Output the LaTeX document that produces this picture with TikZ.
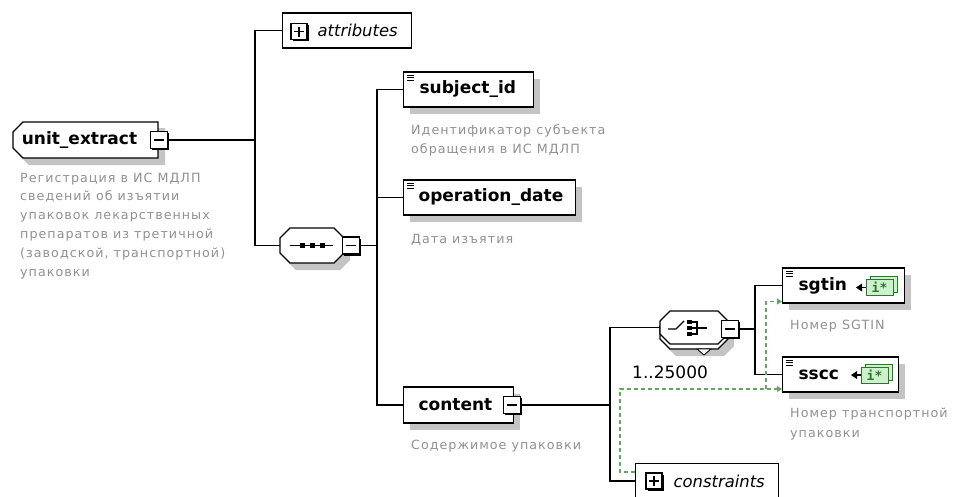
\documentclass[tikz,border=0pt]{standalone}
\usepackage{fontspec}
\setmainfont{DejaVu Sans}
\newfontfamily\descfont[LetterSpace=8]{DejaVu Sans}
\newfontfamily\iconfont{DejaVu Sans Mono}
\usetikzlibrary{shadows,arrows.meta}
\definecolor{descgray}{RGB}{145,145,145}
\definecolor{shadowgray}{RGB}{196,196,196}
\definecolor{keygreen}{RGB}{95,170,95}
\definecolor{iconfill}{RGB}{205,240,205}
\definecolor{icondraw}{RGB}{40,120,40}
\newcommand\octpath[5]{({#1+#5},#2) -- ({#3-#5},#2) -- (#3,{#2+#5}) -- (#3,{#4-#5}) -- ({#3-#5},#4) -- ({#1+#5},#4) -- (#1,{#4-#5}) -- (#1,{#2+#5}) -- cycle}
\newcommand\keyicon[2]{%
  \fill[black] (#1-10,#2) -- (#1-4,#2-4) -- (#1-4,#2+4) -- cycle;
  \draw[line width=1.2pt] (#1-5,#2) -- (#1,#2);
  \filldraw[fill=iconfill,draw=icondraw,line width=1pt] (#1+4,#2-11) rectangle (#1+31,#2+5);
  \filldraw[fill=iconfill,draw=icondraw,line width=1pt] (#1,#2-8) rectangle (#1+27,#2+8);
  \node[inner sep=0pt,text=icondraw,font=\iconfont\bfseries\fontsize{13}{14}\selectfont] at (#1+13.5,#2) {i*};
}
\tikzset{
  elembox/.style={rectangle, draw=black, line width=1.2pt, fill=white, inner xsep=0pt, inner ysep=0pt,
    minimum height=35pt, align=left, anchor=west, font=\bfseries\fontsize{17}{20}\selectfont},
  boxshadow/.style={general shadow={fill=shadowgray, shadow xshift=6pt, shadow yshift=-7pt}},
  simpleicon/.style={path picture={
    \foreach \dy in {3,5.5,8}{\draw[line width=0.9pt] ([xshift=3pt,yshift=-\dy pt]path picture bounding box.north west) -- ++(7pt,0pt);}}},
  hold/.style={rectangle, draw=none, fill=none, inner sep=0pt},
  pm/.style={rectangle, draw=black, fill=white, line width=1.2pt, minimum size=17pt, inner sep=0pt,
    general shadow={fill=black, shadow xshift=1.6pt, shadow yshift=-1.6pt}},
  minusbox/.style={pm, path picture={\draw[line width=1.2pt] ([xshift=-5pt]path picture bounding box.center) -- ([xshift=5pt]path picture bounding box.center);}},
  plusbox/.style={pm, minimum size=16pt, path picture={\draw[line width=1.2pt] ([xshift=-5pt]path picture bounding box.center) -- ([xshift=5pt]path picture bounding box.center) ([yshift=-5pt]path picture bounding box.center) -- ([yshift=5pt]path picture bounding box.center);}},
  desc/.style={anchor=north west, inner sep=0pt, align=left, text=descgray, font=\descfont\fontsize{12.7}{18.8}\selectfont},
  conn/.style={draw=black, line width=1.3pt},
  keyref/.style={draw=keygreen, line width=1.1pt, dash pattern=on 4pt off 3pt, -{Triangle[length=5pt,width=6pt]}},
}
\begin{document}
\begin{tikzpicture}[x=1pt,y=-1pt]
\useasboundingbox (0,0) rectangle (954,496);
\fill[white] (0,0) rectangle (954,496);

% unit_extract
\fill[shadowgray] (19,128) -- (165,128) -- (165,165) -- (29,165) -- (19,155) -- cycle;
\filldraw[fill=white, line width=1.2pt] (23,122) -- (158,122) -- (158,158) -- (23,158) -- (13,148) -- (13,132) -- cycle;
\node[hold, minimum width=145pt, minimum height=36pt, font=\bfseries\fontsize{17}{20}\selectfont] (ue) at (85.5,140) {unit\_extract\hspace*{12pt}};
\node[minusbox] (ueM) at (159,140) {};
\node[desc] (ueD) at (20,172.5) {Регистрация в ИС МДЛП\\сведений об изъятии\\упаковок лекарственных\\препаратов из третичной\\(заводской, транспортной)\\упаковки};

% attributes
\node[elembox, text width=129pt, font=\itshape\fontsize{16.4}{20}\selectfont] (attr) at (282,30.5) {\hspace*{35pt}attributes};
\node[plusbox] (attrP) at (299,31.5) {};

% sequence
\fill[shadowgray] \octpath{286}{234}{350}{270}{10};
\filldraw[fill=white, line width=1.2pt] \octpath{280}{228}{344}{263}{10};
\node[hold, minimum width=64pt, minimum height=35pt] (seq) at (312,245.5) {};
\draw[line width=1.2pt] (290,245.5) -- (333,245.5);
\foreach \dx in {302,312,322}{\fill (\dx-2.5,243) rectangle (\dx+2.5,248);}
\node[minusbox] (seqM) at (351,245.5) {};

% children of sequence
\node[elembox, boxshadow, simpleicon, text width=130pt] (subj) at (403,89.5) {\hspace*{16pt}subject\_id};
\node[desc] (subjD) at (411,124.5) {Идентификатор субъекта\\обращения в ИС МДЛП};
\node[elembox, boxshadow, simpleicon, text width=172pt] (opd) at (403,197.5) {\hspace*{15pt}operation\_date};
\node[desc] (opdD) at (411,234.5) {Дата изъятия};
\node[elembox, boxshadow, text width=110pt, minimum height=36pt] (cont) at (403,405) {\hspace*{15pt}content};
\node[minusbox] (cM) at (512,405) {};
\node[desc] (contD) at (411,439.5) {Содержимое упаковки};

% choice
\fill[shadowgray] \octpath{666}{318}{734}{356}{10};
\filldraw[fill=white, line width=1.2pt] \octpath{660}{316}{728}{349}{10};
\filldraw[fill=white, line width=1.2pt] \octpath{660}{311}{728}{344}{10};
\node[hold, minimum width=68pt, minimum height=33pt] (choice) at (694,327.5) {};
\filldraw[fill=white, line width=0.9pt] (697,349) -- (711,349) -- (704,355) -- cycle;
\draw[line width=1.2pt] (668,329) -- (676,329) -- (684,321);
\foreach \yy in {322,328,334}{\fill (687,\yy-2.2) rectangle (691.5,\yy+2.2);}
\draw[line width=1.2pt] (692,322) -- (697,322) -- (697,334) -- (692,334) (692,328) -- (707,328);
\node[minusbox] (chM) at (730,329) {};
\node[anchor=west, inner sep=0pt, font=\fontsize{17}{20}\selectfont] (occ) at (632,372) {1..25000};

% sgtin / sscc
\node[elembox, boxshadow, simpleicon, text width=122pt] (sgtin) at (782,285.5) {\hspace*{16pt}sgtin};
\keyicon{866}{287.5}
\node[desc] (sgtinD) at (790,319.5) {Номер SGTIN};
\node[elembox, boxshadow, simpleicon, text width=116pt] (sscc) at (782,374.5) {\hspace*{16pt}sscc};
\keyicon{861}{375}
\node[desc, font=\descfont\fontsize{12.7}{20}\selectfont] (ssccD) at (790,407.5) {Номер транспортной\\упаковки};

% constraints
\node[elembox, text width=143pt, font=\itshape\fontsize{16.4}{20}\selectfont] (cons) at (635,481) {\hspace*{38pt}constraints};
\node[plusbox] (consP) at (654,481) {};

% connectors
\coordinate (j1) at (255,140);
\draw[conn] (ueM.east) -- (j1);
\draw[conn] (attr.west) -| (j1) |- (seq.west);
\coordinate (j2) at (377,245.5);
\draw[conn] (seqM.east) -- (j2);
\draw[conn] (subj.west) -| (j2) |- (cont.west);
\draw[conn] (opd.west) -- (opd.west -| j2);
\coordinate (j3) at (610,405);
\draw[conn] (cM.east) -- (j3);
\draw[conn] (choice.west) -| (j3) |- (cons.west);
\coordinate (j4) at (755,329);
\draw[conn] (chM.east) -- (j4);
\draw[conn] (sgtin.west) -| (j4) |- (sscc.west);

% identity constraint references
\coordinate (k1) at (620,389);
\coordinate (k2) at (766,389);
\draw[keyref] ([yshift=9pt]cons.west) -| (k1) -- (k1 -| sscc.west);
\draw[keyref] (k2) |- ([yshift=-16pt]sgtin.west);
\end{tikzpicture}
\end{document}
